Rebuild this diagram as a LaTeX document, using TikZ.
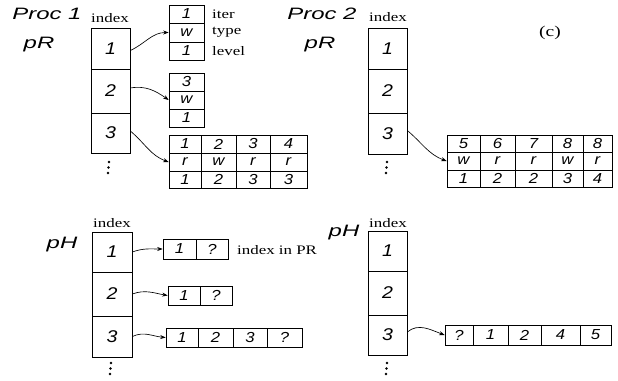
\documentclass[tikz,border=0pt]{standalone}
\usepackage{fontspec}
\newfontfamily\hvlab[FakeStretch=1.45]{Liberation Sans}
\newfontfamily\hvnum[FakeStretch=1.15]{Liberation Sans}
\newfontfamily\tmlab[FakeStretch=1.3]{Liberation Serif}
\usetikzlibrary{arrows.meta}
\newcommand\cbox[7][]{%
  \node[cel,#1,minimum width={(#4-#3)*1pt},minimum height={(#6-#5)*1pt}] (#2) at ({(#3+#4)/2},{(#5+#6)/2}) {#7};}
\begin{document}
\begin{tikzpicture}[x=1pt,y=-1pt,
  cel/.style={draw, line width=0.65pt, inner sep=0pt, font=\hvnum\itshape\fontsize{14.5}{14.5}\selectfont},
  idx/.style={font=\hvnum\itshape\fontsize{17}{17}\selectfont},
  lab/.style={font=\hvlab\itshape\fontsize{16.5}{16.5}\selectfont, inner sep=0pt},
  ser/.style={font=\tmlab\fontsize{13}{13}\selectfont, inner sep=0pt},
  arr/.style={-{Stealth[length=5.5pt,width=4pt]}, line width=0.65pt},
  dot/.style={fill=black}
]
\useasboundingbox (0,0) rectangle (618,380);

% ---------- Proc 1, pR ----------
\node[lab] (proc1) at (47,14) {Proc 1};
\node[lab] (pr1) at (39,45) {pR};
\node[ser] (ix1) at (110,18) {index};
\cbox[idx]{a1}{91}{130}{28}{69}{1}
\cbox[idx]{a2}{91}{130}{69}{113}{2}
\cbox[idx]{a3}{91}{130}{113}{153}{3}
\foreach \yy/\xx in {162/109,167.5/108.5,173/108} \fill[dot] (\xx,\yy) circle (1.3);

\cbox{i1}{169}{204}{5}{23}{1}
\cbox{i2}{169}{204}{23}{42}{w}
\cbox{i3}{169}{204}{42}{60}{1}
\node[ser,anchor=west] (iter) at (212,14) {iter};
\node[ser,anchor=west] (type) at (212,32) {type};
\node[ser,anchor=west] (level) at (212,51) {level};

\cbox{j1}{169}{204}{73}{91}{3}
\cbox{j2}{169}{204}{91}{109}{w}
\cbox{j3}{169}{204}{109}{127}{1}

\foreach \xa/\xb/\u/\v/\w [count=\c] in {169/201/1/r/1, 201/236/2/w/2, 236/270/3/r/3, 270/307/4/r/3}{
  \cbox{ta\c}{\xa}{\xb}{135}{153}{\u}
  \cbox{tb\c}{\xa}{\xb}{153}{171}{\v}
  \cbox{tc\c}{\xa}{\xb}{171}{188}{\w}
}

\draw[arr] ([yshift=-2pt]a1.east) to[out=25,in=180] (i2.west);
\draw[arr] ([yshift=3pt]a2.east) to[out=10,in=145] (j2.west);
\draw[arr] ([yshift=2pt]a3.east) to[out=-40,in=160] (tb1.west);

% ---------- Proc 2, pR ----------
\node[lab] (proc2) at (322,14) {Proc 2};
\node[lab] (pr2) at (320,45) {pR};
\node[ser] (ix2) at (388,17) {index};
\node[ser,font=\tmlab\fontsize{15}{15}\selectfont] (cap) at (550,33) {(c)};
\cbox[idx]{b1}{368}{407}{28}{69}{1}
\cbox[idx]{b2}{368}{407}{69}{113}{2}
\cbox[idx]{b3}{368}{407}{113}{154}{3}
\foreach \yy/\xx in {162/387,167.5/386.5,173/386} \fill[dot] (\xx,\yy) circle (1.3);

\foreach \xa/\xb/\u/\v/\w [count=\c] in {447/480/5/w/1, 480/515/6/r/2, 515/552/7/r/2, 552/583/8/w/3, 583/612/8/r/4}{
  \cbox{ua\c}{\xa}{\xb}{135}{152}{\u}
  \cbox{ub\c}{\xa}{\xb}{152}{170}{\v}
  \cbox{uc\c}{\xa}{\xb}{170}{187}{\w}
}
\draw[arr] ([yshift=3pt]b3.east) to[out=-40,in=160] (ub1.west);

% ---------- Proc 1, pH ----------
\node[lab] (ph1) at (62,245) {pH};
\node[ser] (ix3) at (112,223) {index};
\cbox[idx]{c1}{92}{132}{232}{272}{1}
\cbox[idx]{c2}{92}{132}{272}{316}{2}
\cbox[idx]{c3}{92}{132}{316}{357}{3}
\foreach \yy/\xx in {363/111,368.5/110.5,374/110} \fill[dot] (\xx,\yy) circle (1.3);

\cbox{h1a}{163}{196}{239}{259}{1}
\cbox{h1b}{196}{228}{239}{259}{?}
\node[ser,anchor=west] (inpr) at (237,250) {index in PR};
\cbox{h2a}{168}{200}{286}{305}{1}
\cbox{h2b}{200}{232}{286}{305}{?}
\foreach \xa/\xb/\u [count=\c] in {166/198/1, 198/233/2, 233/267/3, 267/302/?}{
  \cbox{h3\c}{\xa}{\xb}{328}{347}{\u}
}
\draw[arr] (c1.east) to[out=20,in=180] (h1a.west);
\draw[arr] (c2.east) to[out=20,in=170] (h2a.west);
\draw[arr] (c3.east) to[out=25,in=175] (h31.west);

% ---------- Proc 2, pH ----------
\node[lab] (ph2) at (344,233) {pH};
\node[ser] (ix4) at (388,223) {index};
\cbox[idx]{d1}{368}{407}{231}{271}{1}
\cbox[idx]{d2}{368}{407}{271}{315}{2}
\cbox[idx]{d3}{368}{407}{315}{355}{3}
\foreach \yy/\xx in {363/387,368.5/386.5,374/386} \fill[dot] (\xx,\yy) circle (1.3);

\foreach \xa/\xb/\u [count=\c] in {445/473/?, 473/508/1, 508/541/2, 541/580/4, 580/611/5}{
  \cbox{g\c}{\xa}{\xb}{325}{345}{\u}
}
\draw[arr] ([yshift=3pt]d3.east) to[out=40,in=160] (g1.west);
\end{tikzpicture}
\end{document}
